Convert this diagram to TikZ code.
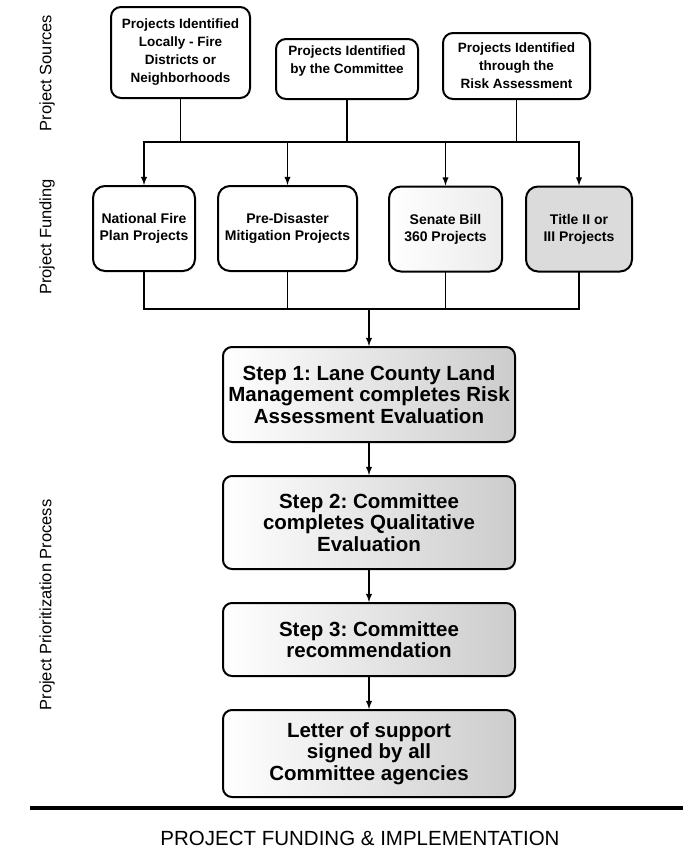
\documentclass[tikz,border=0pt]{standalone}
\usepackage{fontspec}
\setmainfont{Liberation Sans}
\frenchspacing
\usetikzlibrary{positioning}

\begin{document}
\begin{tikzpicture}[x=1pt, y=-1pt, node distance=32pt,
	src node/.style={draw,line width=2pt,rounded corners=10pt,align=center,inner sep=2pt,
		font=\fontsize{13.5}{18}\selectfont\bfseries},
	fund node/.style={draw,line width=2pt,rounded corners=12pt,align=center,inner sep=2pt,
		minimum height=85pt,font=\fontsize{14}{17}\selectfont\bfseries},
	step node/.style={draw,line width=2pt,rounded corners=9pt,align=center,inner sep=1pt,
		minimum width=292pt,left color=white,right color=black!20,
		font=\fontsize{20.5}{21.5}\selectfont\bfseries},
	side label/.style={rotate=90,font=\fontsize{16.5}{18}\selectfont},
	link/.style={line width=1.8pt,line cap=rect},
	arrow/.style={line width=1.8pt,-latex}]

	\useasboundingbox (0,0) rectangle (683,854);

	% sources
	\node[src node,minimum width=139pt,minimum height=91pt] (srcA) at (180.5,52.5)
		{Projects Identified\\Locally - Fire\\Districts or\\Neighborhoods};
	\node[src node,minimum width=142pt,minimum height=60pt] (srcB) at (347,69)
		{\raisebox{8pt}[\height][\depth]{\begin{tabular}{@{}c@{}}Projects Identified\\by the Committee\end{tabular}}};
	\node[src node,minimum width=147pt,minimum height=66pt] (srcC) at (516.5,66)
		{Projects Identified\\through the\\Risk Assessment};

	% funding
	\node[fund node,minimum width=102pt] (fnd1) at (144,228.5) {National Fire\\Plan Projects};
	\node[fund node,minimum width=139pt] (fnd2) at (287.5,228.5) {Pre-Disaster\\Mitigation Projects};
	\node[fund node,minimum width=113pt,left color=white,right color=black!8] (fnd3) at (445.5,229) {Senate Bill\\360 Projects};
	\node[fund node,minimum width=106pt,fill=black!14] (fnd4) at (579,229) {Title II or\\III Projects};

	% prioritization
	\node[step node,minimum height=95pt] (step1) at (369,394.5)
		{Step 1: Lane County Land\\Management completes Risk\\Assessment Evaluation};
	\node[step node,minimum height=93pt,below=of step1] (step2)
		{Step 2: Committee\\completes Qualitative\\Evaluation};
	\node[step node,minimum height=73pt,below=of step2] (step3)
		{Step 3: Committee\\recommendation};
	\node[step node,minimum height=87pt,below=of step3] (letter)
		{Letter of support\\signed by all\\Committee agencies};

	% side labels
	\node[side label] (lblSrc) at (47,73) {Project Sources};
	\node[side label] (lblFund) at (47,237) {Project Funding};
	\node[side label] (lblProc) at (47,605) {Project Prioritization Process};

	% connectors
	\coordinate (busTop) at (0,142);
	\coordinate (busLow) at (0,309);
	\foreach \n in {srcA,srcB,srcC}
		\draw[link] (\n) -- (\n |- busTop);
	\draw[link] (fnd1 |- busTop) -- (fnd4 |- busTop);
	\foreach \n in {fnd1,fnd2,fnd3,fnd4} {
		\draw[arrow] (\n |- busTop) -- (\n);
		\draw[link] (\n) -- (\n |- busLow);
	}
	\draw[link] (fnd1 |- busLow) -- (fnd4 |- busLow);
	\draw[arrow] (step1 |- busLow) -- (step1);
	\draw[arrow] (step1) -- (step2);
	\draw[arrow] (step2) -- (step3);
	\draw[arrow] (step3) -- (letter);

	% footer
	\coordinate (ruleL) at (30,808);
	\coordinate (ruleR) at (683,808);
	\draw[line width=4pt] (ruleL) -- (ruleR);
	\node[font=\fontsize{20.5}{24}\selectfont] (impl) at (360,838) {PROJECT FUNDING \& IMPLEMENTATION};

\end{tikzpicture}
\end{document}
